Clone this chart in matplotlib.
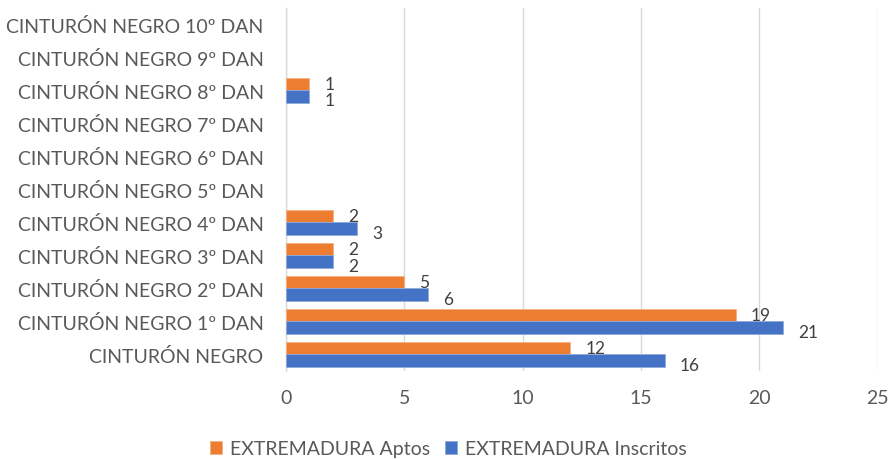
import numpy as np
import matplotlib.pyplot as plt

categories = ["CINTURÓN NEGRO", "CINTURÓN NEGRO 1º DAN", "CINTURÓN NEGRO 2º DAN",
              "CINTURÓN NEGRO 3º DAN", "CINTURÓN NEGRO 4º DAN", "CINTURÓN NEGRO 5º DAN",
              "CINTURÓN NEGRO 6º DAN", "CINTURÓN NEGRO 7º DAN", "CINTURÓN NEGRO 8º DAN",
              "CINTURÓN NEGRO 9º DAN", "CINTURÓN NEGRO 10º DAN"]
aptos = [12, 19, 5, 2, 2, 0, 0, 0, 1, 0, 0]
inscritos = [16, 21, 6, 2, 3, 0, 0, 0, 1, 0, 0]
xticks = [0, 5, 10, 15, 20, 25]

plt.rcParams['font.family'] = ['Lato', 'DejaVu Sans']
text_color = "#595959"
orange = "#ED7D31"
blue = "#4472C4"

fig = plt.figure(figsize=(8.93, 4.6), dpi=100)
ax = fig.add_axes([0.320, 0.192, 0.663, 0.7895])

y = np.arange(len(categories))
h = 0.38
ax.barh(y + h / 2, aptos, height=h, color=orange, edgecolor="#F4B183",
        linewidth=[0.6 if v > 0 else 0 for v in aptos],
        label="EXTREMADURA Aptos", zorder=3)
ax.barh(y - h / 2, inscritos, height=h, color=blue, edgecolor="#8FAADC",
        linewidth=[0.6 if v > 0 else 0 for v in inscritos],
        label="EXTREMADURA Inscritos", zorder=3)

for i in range(len(categories)):
    if aptos[i] > 0:
        ax.annotate(str(aptos[i]), (aptos[i], y[i] + h / 2), xytext=(11, 0),
                    textcoords="offset points", va="center", ha="left",
                    fontsize=12.5, color="#404040")
    if inscritos[i] > 0:
        ax.annotate(str(inscritos[i]), (inscritos[i], y[i] - h / 2), xytext=(11, -3),
                    textcoords="offset points", va="center", ha="left",
                    fontsize=12.5, color="#404040")

ax.set_xlim(0, 25)
ax.set_ylim(-0.5, len(categories) - 0.5)
ax.set_xticks(xticks)
ax.set_yticks(y)
ax.set_yticklabels(categories)
ax.grid(axis="x", color="#D9D9D9", linewidth=1, zorder=0)
for s in ["top", "right", "bottom"]:
    ax.spines[s].set_visible(False)
ax.spines["left"].set_color("#D9D9D9")
ax.spines["left"].set_linewidth(1)
ax.tick_params(axis="both", length=0, labelsize=14, colors=text_color)
ax.tick_params(axis="x", pad=13)
ax.tick_params(axis="y", pad=16)

ax.legend(loc="center", bbox_to_anchor=(0.502, 0.022), bbox_transform=fig.transFigure,
          ncol=2, frameon=False, fontsize=14, labelcolor=text_color,
          handlelength=0.6, handleheight=0.6, columnspacing=0.8, handletextpad=0.4)

fig.savefig("out.png", dpi=100)
